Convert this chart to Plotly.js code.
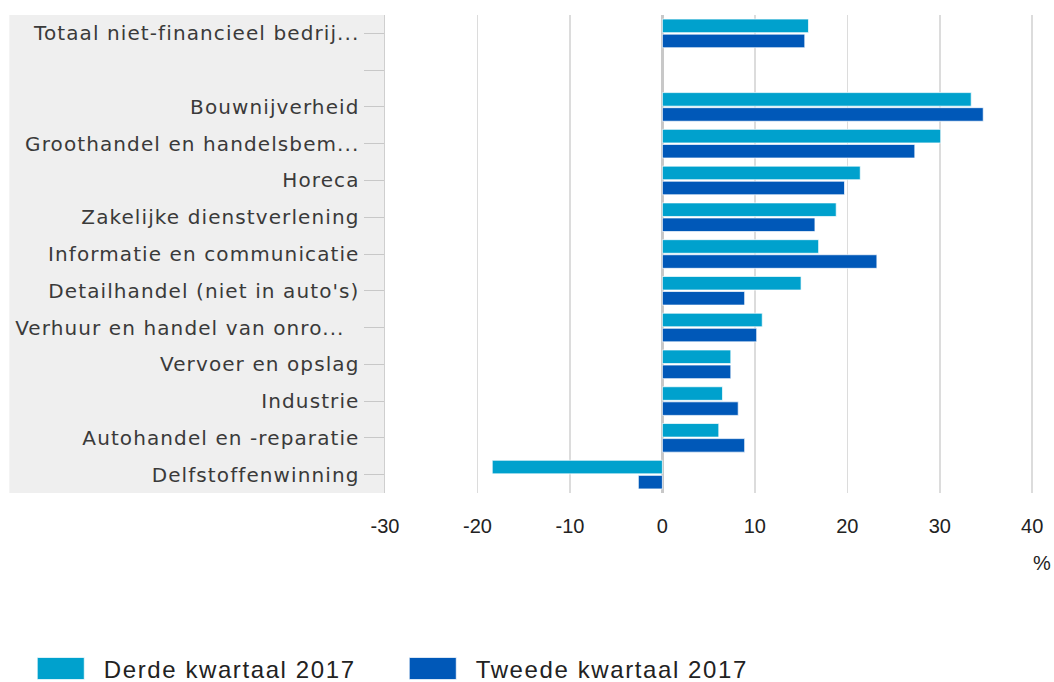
<!DOCTYPE html>
<html><head><meta charset="utf-8">
<script src="https://cdn.plot.ly/plotly-3.0.1.min.js"></script>
<style>
html,body{margin:0;padding:0;background:#fff}#chart{width:1054px;height:682px}
#chart .ytick text{letter-spacing:1.1px}
#chart .legendtext{letter-spacing:1.6px}
</style>
</head><body><div id="chart"></div>
<script>
const categories = ["Totaal niet-financieel bedrij...", " ", "Bouwnijverheid", "Groothandel en handelsbem...", "Horeca", "Zakelijke dienstverlening", "Informatie en communicatie", "Detailhandel (niet in auto's)", "Verhuur en handel van onro...  ", "Vervoer en opslag", "Industrie", "Autohandel en -reparatie", "Delfstoffenwinning"];
const derde = [15.8, null, 33.4, 30.1, 21.4, 18.8, 16.9, 15.0, 10.8, 7.4, 6.5, 6.1, -18.4];
const tweede = [15.4, null, 34.7, 27.3, 19.7, 16.5, 23.2, 8.9, 10.2, 7.4, 8.2, 8.9, -2.6];
const seriesNames = ["Derde kwartaal 2017", "Tweede kwartaal 2017"];
const xTicks = [-30, -20, -10, 0, 10, 20, 30, 40];

const sansFont = '"Liberation Sans", Arial, sans-serif';
const traces = [
  {type:'bar', orientation:'h', name:seriesNames[0], y:categories, x:derde,
   marker:{color:'#00A1CD', line:{color:'rgba(255,255,255,0.7)', width:1}}, hoverinfo:'x'},
  {type:'bar', orientation:'h', name:seriesNames[1], y:categories, x:tweede,
   marker:{color:'#0058B8', line:{color:'rgba(255,255,255,0.7)', width:1}}, hoverinfo:'x'}
];
const layout = {
  width:1054, height:682,
  margin:{l:385, r:19, t:15, b:189, autoexpand:false},
  paper_bgcolor:'#fff', plot_bgcolor:'rgba(0,0,0,0)',
  barmode:'group', bargap:0.18, bargroupgap:0.1,
  showlegend:true,
  legend:{orientation:'h', x:-0.565, xanchor:'left', y:-0.368, yanchor:'middle',
          font:{family:sansFont, size:24, color:'#222'}, itemwidth:76, entrywidth:281,
          traceorder:'normal', bgcolor:'rgba(0,0,0,0)'},
  xaxis:{range:[-30, 40.3], tickvals:xTicks, ticktext:xTicks.map(String),
         showgrid:true, gridcolor:'#dcdcdc', gridwidth:1.5,
         zeroline:true, zerolinecolor:'#c8c8c8', zerolinewidth:2.5,
         showline:false, ticks:'', ticklabelstandoff:19,
         tickfont:{family:sansFont, size:20, color:'#222'}, fixedrange:true},
  yaxis:{type:'category', categoryorder:'array', categoryarray:categories,
         autorange:false, range:[12.5, -0.5],
         showgrid:false, zeroline:false, showline:true, linecolor:'#cfcfcf', linewidth:1.5,
         ticks:'outside', ticklen:20, tickcolor:'#c8c8c8', tickwidth:1,
         tickfont:{family:'"DejaVu Sans", sans-serif', size:20, color:'#3a3a3a'}, fixedrange:true},
  shapes:[{type:'rect', xref:'paper', yref:'paper', x0:-0.578, x1:0, y0:0, y1:1,
           fillcolor:'#efefef', line:{width:0}, layer:'below'}],
  annotations:[{text:'%', xref:'paper', yref:'paper', x:1.027, y:-0.146, xanchor:'right', yanchor:'middle',
                showarrow:false, font:{family:sansFont, size:20, color:'#222'}}]
};
Plotly.newPlot('chart', traces, layout, {displayModeBar:false, staticPlot:true}).then(function(gd){
  gd.querySelectorAll('.legend .legendpoints path').forEach(function(p){
    p.setAttribute('d', 'M23.5,11V-11H-23.5V11Z');
  });
});
</script></body></html>
